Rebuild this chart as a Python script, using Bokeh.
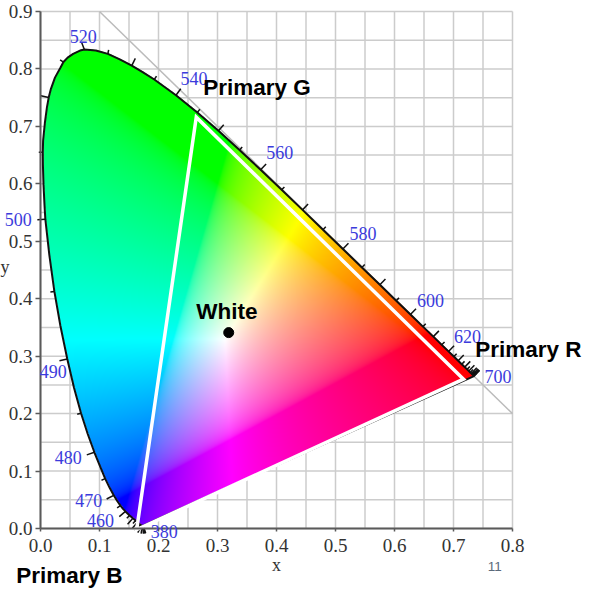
import numpy as np
from bokeh.embed import file_html
from bokeh.models import FixedTicker, Label, NumeralTickFormatter, Range1d
from bokeh.plotting import figure
from bokeh.resources import INLINE

# CIE 1931 spectral locus, 380-700 nm in 5 nm steps
wavelengths = list(range(380, 705, 5))
locus_x = [.1741,.1740,.1738,.1736,.1733,.1730,.1726,.1721,.1714,.1703,.1689,.1669,.1644,.1611,.1566,.1510,.1440,.1355,.1241,.1096,.0913,.0687,.0454,.0235,.0082,.0039,.0139,.0389,.0743,.1142,.1547,.1929,.2296,.2658,.3016,.3373,.3731,.4087,.4441,.4788,.5125,.5448,.5752,.6029,.6270,.6482,.6658,.6801,.6915,.7006,.7079,.7140,.7190,.7230,.7260,.7283,.7300,.7311,.7320,.7327,.7334,.7340,.7344,.7346,.7347]
locus_y = [.0050,.0050,.0049,.0049,.0048,.0048,.0048,.0048,.0051,.0058,.0069,.0086,.0109,.0138,.0177,.0227,.0297,.0399,.0578,.0868,.1327,.2007,.2950,.4127,.5384,.6548,.7502,.8120,.8338,.8262,.8059,.7816,.7543,.7243,.6923,.6589,.6245,.5896,.5547,.5202,.4866,.4544,.4242,.3965,.3725,.3514,.3340,.3197,.3083,.2993,.2920,.2859,.2809,.2770,.2740,.2717,.2700,.2689,.2680,.2673,.2666,.2660,.2656,.2654,.2653]

# extra outline points between the 5 nm entries where the curve bends (wavelength, x, y)
bend_nm = [462.5, 467.5, 472.5, 477.5, 482.5, 487.5, 492.5, 497.5, 501, 502.5, 504, 506, 507.5, 509, 511, 512.5, 514, 516, 517.5, 519, 522.5, 527.5, 532.5]
bend_x = [.1399, .1303, .1172, .1010, .0799, .0568, .0337, .0149, .0068, .0051, .0041, .0044, .0074, .0109, .0177, .0245, .0335, .0460, .0553, .0670, .0939, .1344, .1738]
bend_y = [.0342, .0474, .0708, .1080, .1650, .2450, .3530, .4766, .5630, .5986, .6329, .6750, .7059, .7330, .7654, .7849, .8016, .8198, .8262, .8320, .8322, .8166, .7941]

# drawn primaries triangle and white point
primary_names = ["Primary R", "Primary G", "Primary B"]
primary_x = [0.717, 0.264, 0.163]
primary_y = [0.260, 0.716, -0.002]
white_x, white_y = 0.319, 0.341

x_ticks = [0.0, 0.1, 0.2, 0.3, 0.4, 0.5, 0.6, 0.7, 0.8]
y_ticks = [0.0, 0.1, 0.2, 0.3, 0.4, 0.5, 0.6, 0.7, 0.8, 0.9]
x_grid = [0.05 * i for i in range(17)]
y_grid = [0.05 * i for i in range(19)]

labelled_nm = [380, 460, 470, 480, 490, 500, 520, 540, 560, 580, 600, 620, 700]
label_dx = [21, -25, -25, -26, -14, -27, -1, 18, 19, 20, 20, 19, 24]
label_dy = [-6, -9, -5, -5, -12, 0, 13, 17, 17, 15, 14, 15, 0]

PXX, PXY = 472 / 0.8, 517 / 0.9
W, H = 600, 600
OX, OY = 48, 19 + 517  # canvas pixel of the data origin

p = figure(width=W, height=H, frame_width=W, frame_height=H,
           x_range=Range1d(-OX / PXX, (W - OX) / PXX), y_range=Range1d((OY - H) / PXY, OY / PXY),
           output_backend="svg", toolbar_location=None, min_border=0,
           background_fill_color="white", outline_line_color=None)
p.styles = {"margin-left": "-8px", "margin-top": "-8px"}
p.grid.visible = False

# axes, pinned to the origin
for ax, ticks, bounds in ((p.xaxis, x_ticks, (0, 0.8)), (p.yaxis, y_ticks, (0, 0.9))):
    ax.ticker = FixedTicker(ticks=ticks)
    ax.formatter = NumeralTickFormatter(format="0.0")
    ax.bounds = bounds
    ax.fixed_location = 0
    ax.axis_line_color = "#5a5a5a"
    ax.axis_line_width = 2
    ax.major_tick_line_color = "#5a5a5a"
    ax.major_tick_line_width = 1.5
    ax.major_tick_out = 5
    ax.major_tick_in = 0
    ax.minor_tick_line_color = None
    ax.major_label_text_font = "Liberation Serif"
    ax.major_label_text_font_size = "19px"
    ax.major_label_text_color = "#333333"
    ax.major_label_standoff = 3
p.xaxis.major_tick_out = 3
p.xaxis.major_label_standoff = 7
p.xaxis.axis_label = "x"
p.xaxis.axis_label_text_font = "Liberation Serif"
p.xaxis.axis_label_text_font_style = "normal"
p.xaxis.axis_label_text_font_size = "18px"
p.xaxis.axis_label_text_color = "#333333"
p.xaxis.axis_label_standoff = 0

# grid
grid_xs = [[g, g] for g in x_grid] + [[0, 0.8] for _ in y_grid]
grid_ys = [[0, 0.9] for _ in x_grid] + [[g, g] for g in y_grid]
p.multi_line(grid_xs, grid_ys, line_color="#cccccc", line_width=1.5, level="underlay")

# x + y = 1 guide
p.line([0.1, 0.8], [0.9, 0.2], line_color="#bbbbbb", line_width=1.5, level="underlay")

# full outline: spectral entries plus bend points, ordered by wavelength
lx, ly = np.array(locus_x), np.array(locus_y)
order = np.argsort(wavelengths + bend_nm)
ox_all = np.array(locus_x + bend_x)[order]
oy_all = np.array(locus_y + bend_y)[order]

# chromaticity fill: sRGB, normalised to full brightness
SS = 2
nx, ny = 472 * SS, 517 * SS
gx = (np.arange(nx) + 0.5) / nx * 0.8
gy = (np.arange(ny) + 0.5) / ny * 0.9
X, Y = np.meshgrid(gx, gy)

inside = np.zeros(X.shape, bool)
for x1, y1, x2, y2 in zip(ox_all, oy_all, np.roll(ox_all, 1), np.roll(oy_all, 1)):
    if y1 == y2:
        continue
    inside ^= ((y1 > Y) != (y2 > Y)) & (X < (x2 - x1) * (Y - y1) / (y2 - y1) + x1)

XYZ_TO_SRGB = np.array([[3.2406, -1.5372, -0.4986], [-0.9689, 1.8758, 0.0415], [0.0557, -0.2040, 1.0570]])
xyz = np.stack([X, Y, 1 - X - Y], axis=-1)
rgb = np.clip(xyz @ XYZ_TO_SRGB.T, 0, None)
rgb = rgb / np.maximum(rgb.max(axis=-1, keepdims=True), 1e-9)
rgb = np.where(rgb <= 0.0031308, 12.92 * rgb, 1.055 * rgb ** (1 / 2.4) - 0.055)
rgba = np.zeros((ny, nx, 4), np.uint8)
rgba[..., :3] = np.round(rgb * 255).astype(np.uint8)
rgba[..., 3] = np.where(inside, 255, 0)
p.image_rgba(image=[rgba.view(np.uint32).reshape(ny, nx)], x=0, y=0, dw=0.8, dh=0.9)

# wavelength ticks (normal to the locus)
px, py = lx * PXX, ly * PXY
n = len(px)
tick_xs, tick_ys = [], []
for i, nm in enumerate(wavelengths):
    a, b = max(i - 2, 0), min(i + 2, n - 1)
    tx, ty = px[b] - px[a], py[b] - py[a]
    norm = np.hypot(tx, ty)
    ox, oy = -ty / norm, tx / norm
    length = 8 if nm % 10 == 0 else 4
    tick_xs.append([lx[i], lx[i] + ox * length / PXX])
    tick_ys.append([ly[i], ly[i] + oy * length / PXY])
p.multi_line(tick_xs, tick_ys, line_color="#111111", line_width=1.5)

# locus outline
p.line(list(ox_all) + [ox_all[0]], list(oy_all) + [oy_all[0]], line_color="#111111", line_width=2)

# primaries triangle
p.patch(primary_x, primary_y, fill_color=None, line_color="white", line_width=3.5, line_join="miter")

# white point
p.scatter([white_x], [white_y], size=10, color="black")

# wavelength labels
for nm, dx, dy in zip(labelled_nm, label_dx, label_dy):
    i = wavelengths.index(nm)
    p.add_layout(Label(x=lx[i], y=ly[i], x_offset=dx, y_offset=dy, text=str(nm),
                       text_font="Liberation Serif", text_font_size="18px", text_color="#3b3bdc",
                       text_align="center", text_baseline="middle"))

# annotations
for text, x, y in (("Primary G", 0.367, 0.767), ("Primary R", 0.827, 0.312), ("Primary B", 0.049, -0.081), ("White", 0.316, 0.377)):
    p.add_layout(Label(x=x, y=y, text=text, text_font="Liberation Sans", text_font_style="bold",
                       text_font_size="22.5px", text_color="black", text_align="center", text_baseline="middle"))
p.add_layout(Label(x=-0.06, y=0.455, text="y", text_font="Liberation Serif", text_font_size="18px",
                   text_color="#333333", text_align="center", text_baseline="middle"))
p.add_layout(Label(x=0.77, y=-0.066, text="11", text_font="Liberation Sans", text_font_size="13.5px",
                   text_color="#5b6b7b", text_align="center", text_baseline="middle"))

open("out.html", "w").write(file_html(p, INLINE))
